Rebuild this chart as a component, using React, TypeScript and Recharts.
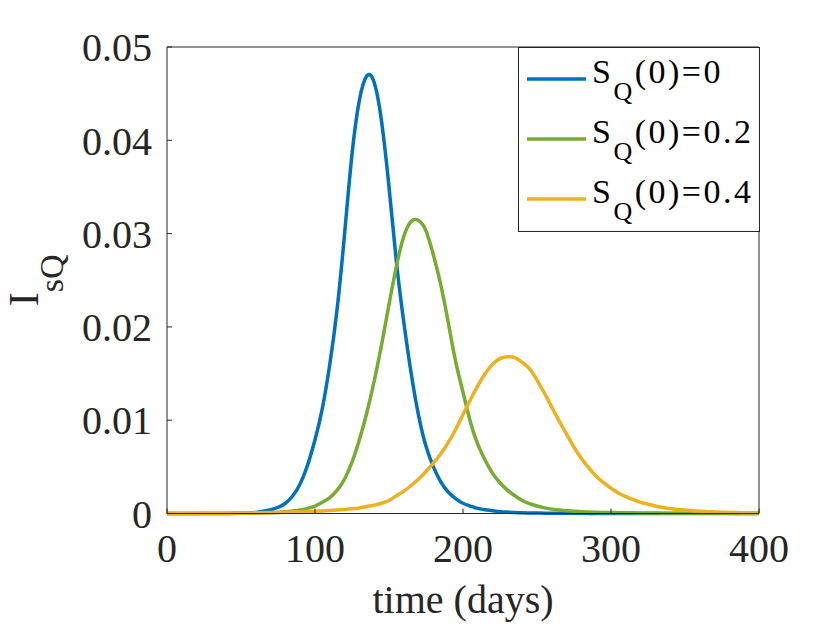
import { LineChart, Line, XAxis, YAxis, Legend, Label } from "recharts";

// time grid (days)
const times = [
  0, 5, 10, 15, 20, 25, 30, 35, 40, 45,
  50, 55, 60, 65, 70, 75, 80, 85, 90, 95,
  100, 105, 110, 115, 120, 125, 130, 135, 140, 145,
  150, 155, 160, 165, 170, 175, 180, 185, 190, 195,
  200, 205, 210, 215, 220, 225, 230, 235, 240, 245,
  250, 255, 260, 265, 270, 275, 280, 285, 290, 295,
  300, 305, 310, 315, 320, 325, 330, 335, 340, 345,
  350, 355, 360, 365, 370, 375, 380, 385, 390, 395,
  400,
];

// I_sQ for S_Q(0)=0
const isqS0 = [
  0, 0, 0, 0, 0, 0, 0, 0.00001, 0.00001, 0.00002,
  0.00003, 0.00006, 0.00012, 0.00024, 0.0004, 0.00065, 0.0011, 0.0019, 0.0032, 0.0052,
  0.0079, 0.0113, 0.016, 0.022, 0.03, 0.0385, 0.0443, 0.0469, 0.0462, 0.042,
  0.035, 0.027, 0.0205, 0.015, 0.0105, 0.0072, 0.005, 0.0034, 0.0023, 0.0016,
  0.0011, 0.0008, 0.00055, 0.0004, 0.0003, 0.0002, 0.00015, 0.00011, 0.00008, 0.00006,
  0.00005, 0.00004, 0.00003, 0.00003, 0.00002, 0.00002, 0.00002, 0.00001, 0.00001, 0.00001,
  0.00001, 0.00001, 0.00001, 0.00001, 0, 0, 0, 0, 0, 0,
  0, 0, 0, 0, 0, 0, 0, 0, 0, 0,
  0,
];

// I_sQ for S_Q(0)=0.2
const isqS02 = [
  0, 0, 0, 0, 0, 0, 0, 0, 0.00001, 0.00001,
  0.00002, 0.00003, 0.00004, 0.00006, 0.00008, 0.00012, 0.00018, 0.00026, 0.00037, 0.00055,
  0.0008, 0.0012, 0.0017, 0.0025, 0.0037, 0.0055, 0.0079, 0.0108, 0.0142, 0.0181,
  0.0224, 0.0265, 0.0297, 0.0313, 0.0314, 0.0303, 0.0277, 0.0245, 0.0205, 0.0163,
  0.013, 0.0098, 0.0074, 0.0057, 0.0043, 0.0033, 0.0025, 0.0019, 0.0014, 0.00105,
  0.0008, 0.0006, 0.00047, 0.00037, 0.0003, 0.00024, 0.0002, 0.00016, 0.00013, 0.00011,
  0.0001, 0.00009, 0.00008, 0.00007, 0.00006, 0.00005, 0.00005, 0.00004, 0.00004, 0.00003,
  0.00003, 0.00003, 0.00002, 0.00002, 0.00002, 0.00002, 0.00002, 0.00001, 0.00001, 0.00001,
  0.00001,
];

// I_sQ for S_Q(0)=0.4
const isqS04 = [
  0, 0, 0.00001, 0.00001, 0.00001, 0.00002, 0.00002, 0.00003, 0.00003, 0.00004,
  0.00005, 0.00006, 0.00007, 0.00008, 0.0001, 0.00011, 0.00013, 0.00015, 0.00018, 0.00021,
  0.00024, 0.00028, 0.00032, 0.00037, 0.00043, 0.0005, 0.0006, 0.00075, 0.0009, 0.0011,
  0.0014, 0.0019, 0.0024, 0.003, 0.0037, 0.0045, 0.0054, 0.0064, 0.0076, 0.009,
  0.0106, 0.0122, 0.0137, 0.015, 0.016, 0.0166, 0.0168, 0.0167, 0.0162, 0.0155,
  0.0143, 0.0129, 0.0114, 0.0099, 0.0085, 0.0071, 0.0059, 0.0049, 0.004, 0.0033,
  0.0027, 0.0022, 0.0018, 0.0015, 0.0012, 0.001, 0.0008, 0.00065, 0.00053, 0.00044,
  0.00037, 0.0003, 0.00025, 0.0002, 0.00017, 0.00014, 0.00012, 0.0001, 0.00009, 0.00008,
  0.00007,
];

const xTicks = [0, 100, 200, 300, 400];
const yTicks = [0, 0.01, 0.02, 0.03, 0.04, 0.05];

const seriesKeys = ["s0", "s02", "s04"];
const seriesLabels = ["0", "0.2", "0.4"];
const seriesColors = ["#0072BD", "#77AC30", "#EDB120"];

const data = times.map((t, i) => ({
  t,
  s0: isqS0[i],
  s02: isqS02[i],
  s04: isqS04[i],
}));

const FONT = "'Liberation Serif', 'Times New Roman', serif";
const INK = "#262626";

const tickStyle = { fontSize: 40, fill: INK, fontFamily: FONT };

function YLabel({ viewBox }: any) {
  const cx = viewBox.x + 38;
  const cy = viewBox.y + viewBox.height / 2;
  return (
    <text
      x={cx}
      y={cy}
      transform={`rotate(-90 ${cx} ${cy})`}
      textAnchor="middle"
      fontFamily={FONT}
      fontSize={42}
      fill={INK}
    >
      I
      <tspan dy={25} fontSize={34}>
        sQ
      </tspan>
    </text>
  );
}

function LegendBox({ payload }: any) {
  const items = payload || [];
  return (
    <svg width={242} height={185} style={{ display: "block" }}>
      <rect x={0.5} y={0.5} width={241} height={184} fill="#fff" stroke={INK} strokeWidth={1} />
      {items.map((item: any, i: number) => (
        <g key={item.value}>
          <line
            x1={9}
            x2={68}
            y1={32 + 60 * i}
            y2={32 + 60 * i}
            stroke={item.color}
            strokeWidth={3.5}
          />
          <text x={74} y={36 + 60 * i} fontFamily={FONT} fontSize={34} fill="#000" letterSpacing={2.5}>
            S
            <tspan dy={17} fontSize={26}>
              Q
            </tspan>
            <tspan dy={-17} fontSize={34}>
              (0)={item.value}
            </tspan>
          </text>
        </g>
      ))}
    </svg>
  );
}

export default function App() {
  return (
    <div
      style={{
        position: "absolute",
        left: 0,
        top: 0,
        width: 840,
        height: 630,
        background: "#fff",
      }}
    >
      <LineChart
        width={840}
        height={630}
        data={data}
        margin={{ top: 46, right: 80, bottom: 0, left: 0 }}
      >
        <XAxis
          xAxisId="bottom"
          dataKey="t"
          type="number"
          domain={[0, 400]}
          ticks={xTicks}
          interval={0}
          height={116.5}
          tickSize={-5}
          tickMargin={25}
          stroke={INK}
          tick={tickStyle}
        >
          <Label
            value="time (days)"
            position="insideBottom"
            offset={17}
            fill={INK}
            fontSize={40}
            fontFamily={FONT}
          />
        </XAxis>
        <XAxis
          xAxisId="top"
          orientation="top"
          dataKey="t"
          type="number"
          domain={[0, 400]}
          ticks={xTicks}
          interval={0}
          height={1}
          tickSize={-5}
          stroke={INK}
          tick={false}
        />
        <YAxis
          yAxisId="left"
          type="number"
          domain={[0, 0.05]}
          ticks={yTicks}
          interval={0}
          width={167}
          tickSize={-5}
          tickMargin={20}
          stroke={INK}
          tick={tickStyle}
        >
          <Label content={<YLabel />} />
        </YAxis>
        <YAxis
          yAxisId="right"
          orientation="right"
          type="number"
          domain={[0, 0.05]}
          ticks={yTicks}
          interval={0}
          width={1}
          tickSize={-5}
          stroke={INK}
          tick={false}
        />
        {seriesKeys.map((key, i) => (
          <Line
            key={key}
            xAxisId="bottom"
            yAxisId="left"
            dataKey={key}
            name={seriesLabels[i]}
            type="natural"
            stroke={seriesColors[i]}
            strokeWidth={3.5}
            dot={false}
            activeDot={false}
            isAnimationActive={false}
          />
        ))}
        <Legend
          layout="horizontal"
          verticalAlign="middle"
          align="center"
          content={<LegendBox />}
          wrapperStyle={{ left: 518, top: 47, width: 242, height: 185 }}
        />
      </LineChart>
    </div>
  );
}
